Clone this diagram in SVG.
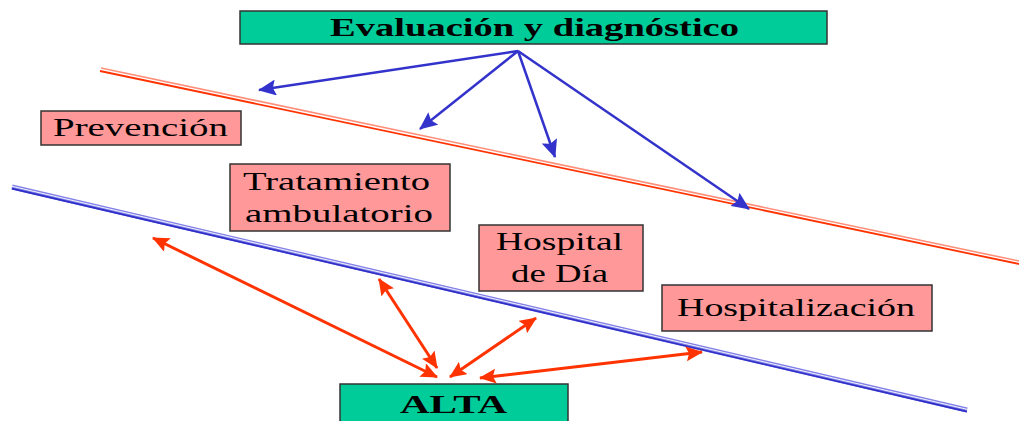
<svg xmlns="http://www.w3.org/2000/svg" width="1019" height="421" viewBox="0 0 1019 421">
<defs>
<style>
.green{fill:#00CC99;stroke:#333;stroke-width:1.5}
.pink{fill:#FF9999;stroke:#333;stroke-width:1.5}
.t{font-family:"Liberation Serif","Times New Roman",serif;font-size:25px;fill:#000}
.b{font-weight:bold}
.ba{stroke:#3333CC;stroke-width:2.5;fill:none}
.ra{stroke:#FF3300;stroke-width:3;fill:none}
</style>
<marker id="bh" markerUnits="userSpaceOnUse" markerWidth="18" markerHeight="16" refX="17" refY="8" orient="auto">
<path d="M0,0 L18,8 L0,16 L3,8 z" fill="#3333CC"/>
</marker>
<marker id="rh" markerUnits="userSpaceOnUse" markerWidth="17" markerHeight="15" refX="16" refY="7.5" orient="auto-start-reverse">
<path d="M0,0 L17,7.5 L0,15 L3,7.5 z" fill="#FF3300"/>
</marker>
</defs>
<g id="bands">
<line x1="101" y1="68" x2="1019" y2="261" stroke="#FF8F7A" stroke-width="1.6"/>
<line x1="100" y1="71" x2="1019" y2="264" stroke="#FF3300" stroke-width="1.8"/>
<line x1="12" y1="187" x2="967" y2="410" stroke="#8080E8" stroke-width="5"/>
<line x1="12" y1="186.3" x2="967" y2="409.3" stroke="#FFFFFF" stroke-width="0.9"/>
<line x1="12" y1="188.6" x2="967" y2="411.6" stroke="#2E2EC8" stroke-width="1.6"/>
</g>
<g id="connectors">
<line class="ba" x1="518" y1="51" x2="259" y2="90" marker-end="url(#bh)"/>
<line class="ba" x1="518" y1="51" x2="420" y2="129" marker-end="url(#bh)"/>
<line class="ba" x1="518" y1="51" x2="555" y2="157" stroke-width="4" marker-end="url(#bh)"/>
<line class="ba" x1="518" y1="51" x2="749" y2="209" stroke-width="3" marker-end="url(#bh)"/>
<line class="ra" x1="153" y1="238" x2="437" y2="377" marker-start="url(#rh)" marker-end="url(#rh)"/>
<line class="ra" x1="379" y1="279" x2="437" y2="368" marker-start="url(#rh)" marker-end="url(#rh)"/>
<line class="ra" x1="450" y1="377" x2="536" y2="318" marker-start="url(#rh)" marker-end="url(#rh)"/>
<line class="ra" x1="480" y1="378" x2="702" y2="352" marker-start="url(#rh)" marker-end="url(#rh)"/>
</g>
<g id="evaluacion">
<rect class="green" x="240" y="11" width="587" height="33"/>
<text class="t b" x="330" y="36" textLength="409" lengthAdjust="spacingAndGlyphs">Evaluación y diagnóstico</text>
</g>
<g id="prevencion">
<rect class="pink" x="41" y="111" width="200" height="34"/>
<text class="t" x="53" y="136" textLength="175" lengthAdjust="spacingAndGlyphs">Prevención</text>
</g>
<g id="tratamiento">
<rect class="pink" x="230" y="164" width="220" height="67"/>
<text class="t" x="243" y="190" textLength="187" lengthAdjust="spacingAndGlyphs">Tratamiento</text>
<text class="t" x="245" y="222" textLength="188" lengthAdjust="spacingAndGlyphs">ambulatorio</text>
</g>
<g id="hospital-dia">
<rect class="pink" x="479" y="225" width="164" height="66"/>
<text class="t" x="496" y="250" textLength="127" lengthAdjust="spacingAndGlyphs">Hospital</text>
<text class="t" x="511" y="282" textLength="97" lengthAdjust="spacingAndGlyphs">de Día</text>
</g>
<g id="hospitalizacion">
<rect class="pink" x="662" y="285" width="270" height="46"/>
<text class="t" x="677" y="316" textLength="238" lengthAdjust="spacingAndGlyphs">Hospitalización</text>
</g>
<g id="alta">
<rect class="green" x="340" y="384" width="228" height="45"/>
<text class="t b" x="400" y="413" textLength="107" lengthAdjust="spacingAndGlyphs">ALTA</text>
</g>
</svg>
